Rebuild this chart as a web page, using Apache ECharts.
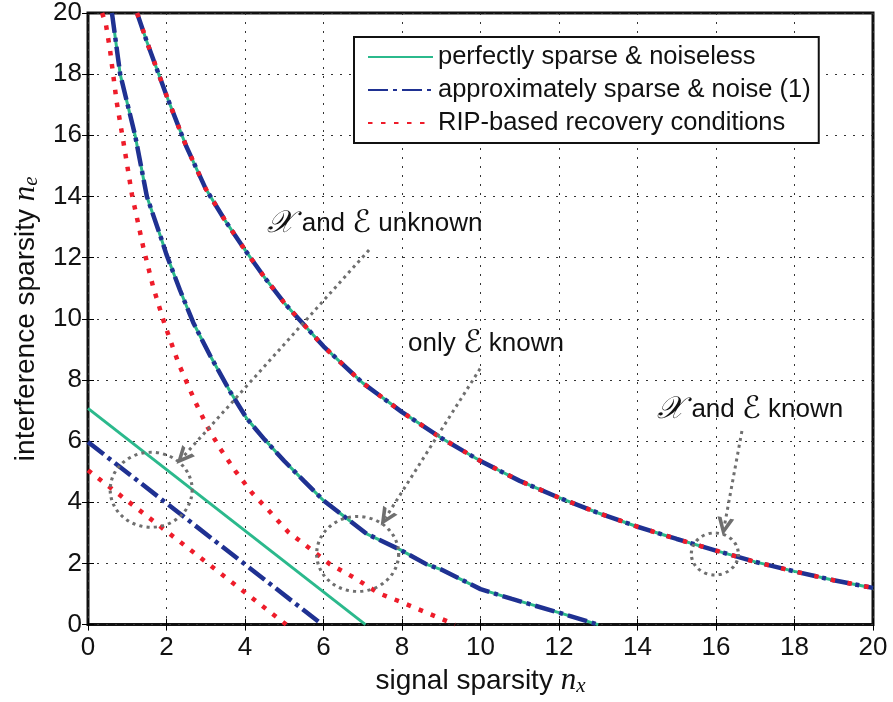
<!DOCTYPE html>
<html>
<head>
<meta charset="utf-8">
<script src="https://cdn.jsdelivr.net/npm/echarts@6/dist/echarts.min.js"></script>
<style>
html,body{margin:0;padding:0;background:#fff;}
#chart{width:893px;height:702px;}
</style>
</head>
<body>
<div id="chart"></div>
<script>
// ---- data ----
const seriesNames = ['perfectly sparse & noiseless', 'approximately sparse & noise (1)', 'RIP-based recovery conditions'];

// "X and E known" boundary (all three conditions coincide)
const bothKnownCurve = [[1.25,20],[1.5,19.06],[2,17.3],[2.5,15.65],[3,14.25],[3.5,13.2],[4,12.25],[4.5,11.35],[5,10.52],[6,9.1],[7,7.9],[8,6.95],[9,6.1],[10,5.35],[11,4.7],[12,4.15],[13,3.65],[14,3.2],[15,2.8],[16,2.42],[17,2.05],[18,1.74],[19,1.45],[20,1.2]];
// "only E known" boundary (noiseless & noisy coincide)
const eKnownCurve = [[0.61,20],[0.82,18],[1.2,16],[1.5,14],[1.88,12.57],[2,12.1],[2.34,10.95],[2.68,9.88],[3.11,8.8],[3.62,7.62],[4.04,6.75],[4.5,6.05],[5,5.35],[5.5,4.7],[6,4.06],[7.1,2.97],[7.95,2.45],[8.63,1.97],[9,1.8],[10,1.16],[10.8,0.84],[12,0.39],[13,0]];
// RIP-based, only E known
const ripEKnownCurve = [[0.36,20],[0.46,19.6],[0.56,18.8],[0.73,17.1],[0.9,15.8],[1.12,14.06],[1.41,12.33],[1.66,11.04],[1.96,9.79],[2.31,8.53],[2.72,7.32],[3.03,6.5],[3.36,5.77],[3.75,5.03],[4.17,4.32],[4.64,3.68],[5.1,3.03],[5.66,2.48],[6.17,1.97],[6.8,1.52],[7.4,1.03],[8.03,0.71],[8.63,0.39],[9.35,0]];
// "X and E unknown" boundaries
const unknownNoiseless = [[0,7.07],[7.07,0]];
const unknownNoisy = [[0,5.97],[5.97,0]];
const unknownRip = [[0,5.05],[5.05,0]];

// annotations (data coordinates)
const annotTexts = ['{m|\u{1D4B3}}{t| and }{m|\u2130}{t| unknown}', '{t|only }{m|\u2130}{t| known}', '{m|\u{1D4B3}}{t| and }{m|\u2130}{t| known}'];
const annotTextPos = [[7.31,13.1],[10.14,9.18],[16.87,7.01]];
const circleCenters = [[1.61,4.41],[6.87,2.31],[15.97,2.31]];
const circleSizes = [[82,75],[82,75],[47,42]];
const arrowFrom = [[7.16,12.25],[9.99,8.37],[16.66,6.33]];
const arrowTo = [[2.41,5.47],[7.58,3.49],[16.21,3.2]];

const axisMin = 0, axisMax = 20, axisStep = 2;

// ---- styles ----
const GREEN = '#2bb98c', BLUE = '#1f3192', RED = '#ee1c2a', GRAY = '#6f6f6f', INK = '#111';
const FONT = 'Liberation Sans, Arial, Helvetica, sans-serif';
const MATH = 'Liberation Serif, DejaVu Serif, serif';

function greenLine(data) {
  return {name: seriesNames[0], type: 'line', data: data, symbol: 'none', silent: true,
    lineStyle: {color: GREEN, width: 3}, itemStyle: {color: GREEN}, z: 2};
}
function blueLine(data) {
  return {name: seriesNames[1], type: 'line', data: data, symbol: 'none', silent: true,
    lineStyle: {color: BLUE, width: 4.5, type: [20, 5, 4, 5]}, itemStyle: {color: BLUE}, z: 3};
}
function redLine(data, dash) {
  return {name: seriesNames[2], type: 'line', data: data, symbol: 'none', silent: true,
    lineStyle: {color: RED, width: 4.5, type: dash}, itemStyle: {color: RED}, z: 4};
}

const chevron = 'path://M0,10 L5,0 L10,10 L7.6,10 L5,4.6 L2.4,10 Z';

const series = [
  greenLine(bothKnownCurve), greenLine(eKnownCurve), greenLine(unknownNoiseless),
  blueLine(bothKnownCurve), blueLine(eKnownCurve), blueLine(unknownNoisy),
  redLine(ripEKnownCurve, [4.5, 8.5]), redLine(unknownRip, [4.5, 8.5]), redLine(bothKnownCurve, [4.5, 12.5]),
  {
    name: 'circles', type: 'scatter', silent: true, z: 5,
    data: circleCenters.map((c, i) => ({value: c, symbolSize: circleSizes[i]})),
    symbol: 'circle',
    itemStyle: {color: 'rgba(0,0,0,0)', borderColor: GRAY, borderWidth: 3, borderType: [3, 4], opacity: 1},
    markLine: {
      silent: true, animation: false,
      symbol: ['none', chevron], symbolSize: [17, 18],
      label: {show: false},
      lineStyle: {color: GRAY, width: 3, type: [3, 4], opacity: 1},
      data: arrowFrom.map((f, i) => [{coord: f}, {coord: arrowTo[i]}])
    }
  },
  {
    name: 'texts', type: 'scatter', silent: true, z: 6, symbolSize: 0,
    itemStyle: {opacity: 1},
    data: annotTextPos.map((p, i) => ({value: p, label: {formatter: annotTexts[i]}})),
    label: {
      show: true, position: 'inside', color: INK, opacity: 1,
      rich: {
        t: {fontSize: 26, fontFamily: FONT, color: INK},
        m: {fontSize: 31, fontFamily: 'DejaVu Serif, DejaVu Sans, serif', fontStyle: 'italic', color: INK}
      }
    }
  }
];

const axisCommon = {
  type: 'value', min: axisMin, max: axisMax, interval: axisStep,
  axisLine: {show: false},
  axisTick: {show: true, inside: true, length: 6, lineStyle: {color: '#000', width: 1}},
};

const titleRich = {
  t: {fontSize: 28, fontFamily: FONT, color: INK, lineHeight: 32},
  n: {fontSize: 31, fontFamily: MATH, fontStyle: 'italic', color: INK, lineHeight: 32},
  s: {fontSize: 21, fontFamily: MATH, fontStyle: 'italic', color: INK, lineHeight: 12, verticalAlign: 'bottom'}
};

const option = {
  animation: false,
  backgroundColor: '#fff',
  grid: {left: 88, right: 20, top: 10, bottom: 73, show: true, borderColor: INK, borderWidth: 3, backgroundColor: 'transparent'},
  legend: {
    data: seriesNames,
    orient: 'vertical', left: 354, top: 37,
    padding: [6, 8, 6, 13], itemGap: 5, itemWidth: 65, itemHeight: 14,
    borderColor: INK, borderWidth: 2, backgroundColor: '#fff',
    itemStyle: {opacity: 0, borderWidth: 0},
    textStyle: {fontSize: 25.5, fontFamily: FONT, color: INK, lineHeight: 28},
    selectedMode: false
  },
  xAxis: [
    Object.assign({}, axisCommon, {
      position: 'bottom',
      axisLabel: {fontSize: 26, fontFamily: FONT, color: INK, margin: 10},
      splitLine: {show: true, lineStyle: {color: '#333', width: 1, type: [2, 7]}},
      name: '{t|signal sparsity }{n|n}{s|x}', nameLocation: 'middle', nameGap: 29,
      nameTextStyle: {rich: titleRich}
    }),
    Object.assign({}, axisCommon, {position: 'top', axisLabel: {show: false}, splitLine: {show: false}})
  ],
  yAxis: [
    Object.assign({}, axisCommon, {
      position: 'left',
      axisLabel: {fontSize: 26, fontFamily: FONT, color: INK, margin: 6},
      splitLine: {show: true, lineStyle: {color: '#333', width: 1, type: [2, 7]}},
      name: '{t|interference sparsity }{n|n}{s|e}', nameLocation: 'middle', nameGap: 46, nameRotate: 90,
      nameTextStyle: {rich: titleRich}
    }),
    Object.assign({}, axisCommon, {position: 'right', axisLabel: {show: false}, splitLine: {show: false}})
  ],
  series: series
};

const chart = echarts.init(document.getElementById('chart'), null, {renderer: 'canvas'});
chart.setOption(option);
</script>
</body>
</html>
